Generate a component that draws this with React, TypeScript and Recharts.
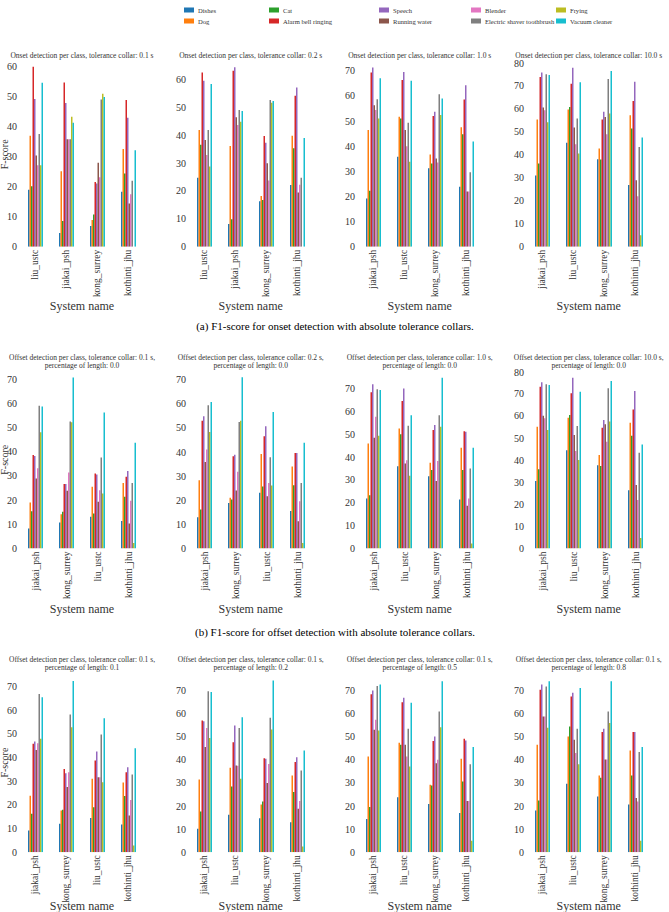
import { BarChart, Bar, XAxis, YAxis } from 'recharts';

const CLASSES = [
  'Dishes', 'Dog', 'Cat', 'Alarm bell ringing', 'Speech',
  'Running water', 'Blender', 'Electric shaver toothbrush', 'Frying', 'Vacuum cleaner',
];
const COLORS = [
  '#1f77b4', '#ff7f0e', '#2ca02c', '#d62728', '#9467bd',
  '#8c564b', '#e377c2', '#7f7f7f', '#bcbd22', '#17becf',
];

// system order on the x axis
const ORDER_A = ['liu_ustc', 'jiakai_psh', 'kong_surrey', 'kothinti_jhu'];
const ORDER_B = ['jiakai_psh', 'liu_ustc', 'kong_surrey', 'kothinti_jhu'];
const ORDER_C = ['jiakai_psh', 'kong_surrey', 'liu_ustc', 'kothinti_jhu'];

// F-score per system (row) and class (column, same order as CLASSES)
const onset01 = [
  [19, 37, 20.2, 60, 49.3, 30.4, 27.2, 37.6, 27.2, 54.7],
  [4.6, 25.2, 8.6, 54.8, 47.9, 35.8, 35.8, 35.8, 43.3, 41.3],
  [6.9, 8.9, 10.7, 21.6, 21.1, 28, 23.2, 49.1, 51, 49.9],
  [18.3, 32.6, 24.4, 48.9, 43, 14.4, 17.5, 22, 0, 32.2],
];
const onset02 = [
  [24.7, 41.8, 36.5, 62.4, 59.5, 38.2, 32.9, 41.8, 28.7, 58.3],
  [8.1, 36.1, 9.8, 63.1, 64.3, 46.4, 43.6, 49, 44.8, 48.6],
  [16.3, 18.2, 16.7, 39.7, 37.3, 29.9, 23.7, 52.6, 51.6, 52.2],
  [22.1, 39.8, 35.3, 54.1, 57.1, 19.4, 22.2, 24.7, 0, 39],
];
const onset10 = [
  [19.2, 46.4, 22.3, 69.3, 71.3, 56.3, 54.4, 58.7, 51, 67],
  [35.8, 51.7, 51, 66.3, 69.5, 46.4, 40, 49.3, 33.8, 66],
  [31.2, 36.7, 33.1, 52, 53.7, 35.1, 33.5, 60.7, 52.4, 59],
  [23.9, 47.5, 44.7, 58.6, 64.2, 22, 22, 29.6, 0, 41.9],
];
const onset100 = [
  [30.8, 55.1, 36, 73.5, 75.5, 60.3, 59.1, 74.7, 53.9, 74.4],
  [45, 59.4, 60.5, 70.6, 77.5, 51.6, 44.4, 55.5, 40.4, 71.2],
  [37.9, 42.5, 37.8, 55.1, 58.4, 56.2, 48.7, 72.6, 57.7, 76.1],
  [26.7, 56.9, 51.2, 63.1, 71.4, 28.8, 21.9, 43.2, 5, 47.3],
];
const offset01 = [
  [8.3, 19, 15.4, 38.6, 38.2, 28.9, 33.1, 59, 48, 58.6],
  [10.7, 14.1, 15.2, 26.6, 26.6, 23.8, 31.4, 52.4, 52.1, 70.6],
  [13.1, 25.5, 14.5, 31, 30.6, 19.3, 24.1, 37.6, 22.7, 56.2],
  [11.4, 27.1, 21.4, 29.6, 32, 10.3, 19.7, 27.1, 2.3, 43.7],
];
const offset02 = [
  [13, 28.3, 16.2, 53, 54.8, 35.9, 41, 59.4, 48.3, 60.7],
  [18.9, 21, 20.3, 38.2, 38.9, 24, 31.8, 52.5, 53, 71],
  [23.1, 39.2, 25.7, 46.5, 50.7, 21.7, 27.2, 37.8, 26.1, 56.6],
  [15.5, 34, 26.2, 39.6, 39.6, 11.3, 19.6, 27.2, 2.3, 43.9],
];
const offset10 = [
  [21.9, 45.9, 23.3, 68.3, 71.8, 48.4, 57.6, 69.6, 49.3, 69.3],
  [36, 52.5, 49.9, 64.5, 70, 37.2, 38.6, 53.7, 31.8, 58.3],
  [31.6, 37.5, 34.3, 51.8, 54, 29.5, 38.2, 58.3, 53.2, 74.7],
  [21.4, 44, 34.3, 51.3, 51, 18.7, 21.9, 35, 2.2, 44],
];
const offset100 = [
  [30.5, 55.1, 35.8, 73.2, 75.2, 60.1, 58.9, 74.3, 53.6, 74],
  [44.5, 59.2, 60.4, 70.2, 77.3, 51.3, 44.1, 55.4, 40, 70.9],
  [37.7, 42.3, 37.3, 54.6, 58.1, 56.2, 48.3, 72.5, 57.4, 75.8],
  [26.4, 56.9, 51, 62.9, 71.2, 28.7, 21.9, 43.3, 4.8, 47.1],
];
const pct01 = [
  [9.2, 23.9, 16.2, 45.8, 46.8, 43.2, 46, 66.9, 47.9, 65.5],
  [12, 17.6, 17.9, 35.2, 33.4, 27.5, 33.8, 58.2, 52.8, 72.3],
  [14.4, 31, 19, 38.7, 42.5, 31.7, 31.7, 49.7, 29.6, 56.6],
  [11.7, 29.4, 23.7, 33.8, 35.9, 15.5, 22.1, 32.8, 2.8, 43.9],
];
const pct02 = [
  [10.1, 31.5, 17.6, 57, 56.7, 45.5, 53.7, 69.6, 49.4, 69.3],
  [16.2, 36.5, 28.4, 47.6, 54.8, 37.5, 37.4, 53.7, 31.8, 58.4],
  [14.7, 20.6, 21.9, 40.7, 40.4, 29.9, 38.2, 58.2, 53.1, 74.3],
  [13, 33.2, 26, 39, 41.1, 18.8, 22.1, 35.4, 2.5, 44],
];
const pct05 = [
  [14.4, 41.4, 19.5, 68.3, 70, 53, 57.3, 71.9, 52.7, 72.6],
  [23.8, 47.3, 46.5, 64.9, 66.8, 46.5, 41.4, 53.4, 37.1, 64.7],
  [20.9, 29.2, 28.9, 48.1, 50.1, 38.5, 40, 60.9, 54.1, 74],
  [17, 40.4, 30.6, 49.1, 48.3, 22.1, 22.1, 38, 5, 45.5],
];
const pct08 = [
  [18, 46.5, 22.4, 70.3, 72.6, 58.7, 58.7, 71.7, 53.8, 74],
  [29.6, 50.1, 54.4, 67.4, 69, 48.6, 42.9, 53.4, 38, 71],
  [24.1, 33.2, 32.2, 52, 53.4, 40.1, 40.1, 60.9, 55.9, 74],
  [20.6, 44, 33.2, 52, 52, 23.4, 21.9, 43.3, 5, 45.5],
];

const TICKS_60 = [0, 10, 20, 30, 40, 50, 60];
const TICKS_70 = [0, 10, 20, 30, 40, 50, 60, 70];
const TICKS_80 = [0, 10, 20, 30, 40, 50, 60, 70, 80];

const COL_LEFT = [20, 188.7, 357.7, 526.7];
const PLOT_W = 124;
const ROWS = [
  { top: 62, bottom: 246.7, titleY: [55], xLabelY: 306 },
  { top: 371, bottom: 548.5, titleY: [357, 365.5], xLabelY: 608.5 },
  { top: 673.5, bottom: 851.7, titleY: [659.3, 667.5], xLabelY: 906 },
];

const PANELS = [
  { row: 0, col: 0, title: ['Onset detection per class, tolerance collar: 0.1 s'], systems: ORDER_A, values: onset01, yMax: 61.6, ticks: TICKS_60 },
  { row: 0, col: 1, title: ['Onset detection per class, tolerance collar: 0.2 s'], systems: ORDER_A, values: onset02, yMax: 66.2, ticks: TICKS_60 },
  { row: 0, col: 2, title: ['Onset detection per class, tolerance collar: 1.0 s'], systems: ORDER_B, values: onset10, yMax: 73.5, ticks: TICKS_70 },
  { row: 0, col: 3, title: ['Onset detection per class, tolerance collar: 10.0 s'], systems: ORDER_B, values: onset100, yMax: 80, ticks: TICKS_80 },
  { row: 1, col: 0, title: ['Offset detection per class, tolerance collar: 0.1 s,', 'percentage of length: 0.0'], systems: ORDER_C, values: offset01, yMax: 73.3, ticks: TICKS_70 },
  { row: 1, col: 1, title: ['Offset detection per class, tolerance collar: 0.2 s,', 'percentage of length: 0.0'], systems: ORDER_C, values: offset02, yMax: 73.6, ticks: TICKS_70 },
  { row: 1, col: 2, title: ['Offset detection per class, tolerance collar: 1.0 s,', 'percentage of length: 0.0'], systems: ORDER_B, values: offset10, yMax: 77.6, ticks: TICKS_70 },
  { row: 1, col: 3, title: ['Offset detection per class, tolerance collar: 10.0 s,', 'percentage of length: 0.0'], systems: ORDER_B, values: offset100, yMax: 80.3, ticks: TICKS_80 },
  { row: 2, col: 0, title: ['Offset detection per class, tolerance collar: 0.1 s,', 'percentage of length: 0.1'], systems: ORDER_C, values: pct01, yMax: 75.3, ticks: TICKS_70 },
  { row: 2, col: 1, title: ['Offset detection per class, tolerance collar: 0.1 s,', 'percentage of length: 0.2'], systems: ORDER_B, values: pct02, yMax: 77.1, ticks: TICKS_70 },
  { row: 2, col: 2, title: ['Offset detection per class, tolerance collar: 0.1 s,', 'percentage of length: 0.5'], systems: ORDER_B, values: pct05, yMax: 77.1, ticks: TICKS_70 },
  { row: 2, col: 3, title: ['Offset detection per class, tolerance collar: 0.1 s,', 'percentage of length: 0.8'], systems: ORDER_B, values: pct08, yMax: 77.1, ticks: TICKS_70 },
];

const CAPTIONS = [
  { y: 326, text: '(a) F1-score for onset detection with absolute tolerance collars.' },
  { y: 632, text: '(b) F1-score for offset detection with absolute tolerance collars.' },
];

const LEGEND_COL_X = [184, 269, 379, 471, 556];
const LEGEND_ROW_Y = [10, 21];

const FONT = '"Liberation Serif", "DejaVu Serif", serif';
const INK = '#333';

function SystemTick(props: any) {
  const { x, y, payload } = props;
  return (
    <text
      x={x}
      y={y}
      transform={`rotate(-90, ${x}, ${y})`}
      textAnchor="end"
      dominantBaseline="central"
      fontSize={9.5}
      fontFamily={FONT}
      fill={INK}
    >
      {payload.value}
    </text>
  );
}

function Panel({ p }: { p: (typeof PANELS)[number] }) {
  const row = ROWS[p.row];
  const plotLeft = COL_LEFT[p.col];
  const plotH = row.bottom - row.top;
  const yw = 25;
  const mt = 4;
  const xh = 62;
  const data = p.systems.map((s, i) => {
    const d: Record<string, number | string> = { system: s };
    CLASSES.forEach((c, j) => {
      d[c] = p.values[i][j];
    });
    return d;
  });
  return (
    <div style={{ position: 'absolute', left: plotLeft - yw, top: row.top - mt }}>
      <BarChart
        width={PLOT_W + yw + 4}
        height={plotH + mt + xh}
        data={data}
        margin={{ top: mt, right: 4, bottom: 0, left: 0 }}
        barGap={0}
        barSize={1.5}
      >
        <XAxis
          dataKey="system"
          interval={0}
          height={xh}
          tickLine={false}
          axisLine={false}
          tickSize={3}
          tickMargin={0}
          tick={<SystemTick />}
        />
        <YAxis
          width={yw}
          domain={[0, p.yMax]}
          ticks={p.ticks}
          allowDataOverflow
          tickLine={false}
          axisLine={false}
          tickSize={2}
          tickMargin={1}
          tick={{ fontSize: 10, fontFamily: FONT, fill: INK }}
        />
        {CLASSES.map((c, j) => (
          <Bar key={c} dataKey={c} fill={COLORS[j]} isAnimationActive={false} />
        ))}
      </BarChart>
    </div>
  );
}

export default function App() {
  return (
    <div
      style={{
        position: 'absolute',
        left: 0,
        top: 0,
        width: 669,
        height: 912,
        overflow: 'hidden',
        background: '#fff',
      }}
    >
      <svg width={669} height={912} style={{ position: 'absolute', left: 0, top: 0 }}>
        {CLASSES.map((c, i) => {
          const x = LEGEND_COL_X[Math.floor(i / 2)];
          const y = LEGEND_ROW_Y[i % 2];
          return (
            <g key={c}>
              <rect x={x} y={y - 2.5} width={10} height={5} fill={COLORS[i]} />
              <text x={x + 14} y={y} dominantBaseline="central" fontSize={6.6} fontFamily={FONT} fill={INK}>
                {c}
              </text>
            </g>
          );
        })}
        {PANELS.map((p, k) => {
          const row = ROWS[p.row];
          const cx = COL_LEFT[p.col] + PLOT_W / 2;
          return (
            <g key={k}>
              {p.title.map((t, li) => (
                <text
                  key={li}
                  x={cx}
                  y={row.titleY[li]}
                  textAnchor="middle"
                  dominantBaseline="central"
                  fontSize={7.5}
                  fontFamily={FONT}
                  fill={INK}
                >
                  {t}
                </text>
              ))}
              <text
                x={cx}
                y={row.xLabelY}
                textAnchor="middle"
                dominantBaseline="central"
                fontSize={12}
                fontFamily={FONT}
                fill={INK}
              >
                System name
              </text>
              {p.col === 0 && (
                <text
                  x={8}
                  y={(row.top + row.bottom) / 2}
                  transform={`rotate(-90, 8, ${(row.top + row.bottom) / 2})`}
                  textAnchor="middle"
                  fontSize={10}
                  fontFamily={FONT}
                  fill={INK}
                >
                  F-score
                </text>
              )}
            </g>
          );
        })}
        {CAPTIONS.map((c) => (
          <text
            key={c.text}
            x={335}
            y={c.y}
            textAnchor="middle"
            dominantBaseline="central"
            fontSize={11}
            fontFamily={FONT}
            fill="#000"
          >
            {c.text}
          </text>
        ))}
      </svg>
      {PANELS.map((p, k) => (
        <Panel key={k} p={p} />
      ))}
    </div>
  );
}
